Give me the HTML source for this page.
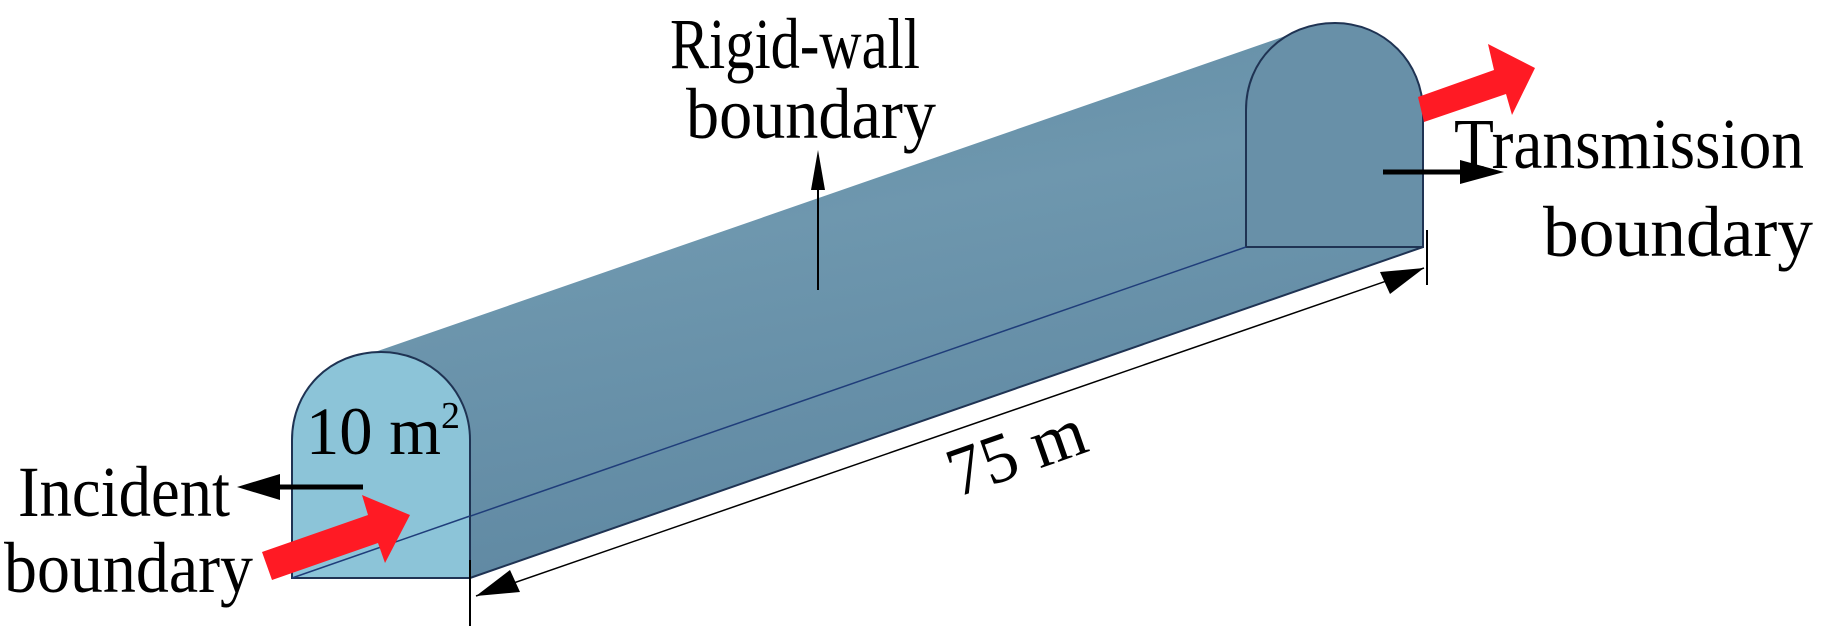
<!DOCTYPE html>
<html><head><meta charset="utf-8"><style>
html,body{margin:0;padding:0;background:#fff}
svg{display:block}
text{font-family:"Liberation Serif",serif;fill:#000}
</style></head><body>
<svg width="1843" height="636" viewBox="0 0 1843 636" xmlns="http://www.w3.org/2000/svg">
<defs>
<linearGradient id="bg" x1="0" y1="0" x2="0.35" y2="1">
<stop offset="0" stop-color="#5f8aa3"/>
<stop offset="0.45" stop-color="#6e97ae"/>
<stop offset="1" stop-color="#5f88a2"/>
</linearGradient>
</defs>
<path d="M346,362 L1300,31 L1330,23 C1385,23 1423,62 1423,112 L1423,247 L470,578 L470,442 C470,392 430,352 381,352 Z" fill="url(#bg)"/>
<path d="M1246,247 L1246,110 C1246,60 1284,23 1335,23 C1384,23 1423,62 1423,112 L1423,247 Z" fill="#6890a8" stroke="#1f3353" stroke-width="2"/>
<line x1="470" y1="578" x2="1423" y2="247" stroke="#1f3353" stroke-width="2"/>
<line x1="292" y1="578" x2="1246" y2="247" stroke="#1f3d7a" stroke-width="1.5"/>
<path d="M292,578 L292,440 C292,390 330,352 381,352 C430,352 470,390 470,440 L470,578 Z" fill="#8cc4d8" stroke="#1f3353" stroke-width="2"/>
<line x1="292" y1="578" x2="470" y2="516" stroke="#1f3d7a" stroke-width="1.5"/>
<polygon points="262,552 368,515 362,495 410,515 385,563 378,543 272,580" fill="#ff1a24"/>
<polygon points="1418,97 1494,70 1488,44 1535,68 1512,115 1506,94 1424,122" fill="#ff1a24"/>
<line x1="818" y1="290" x2="818" y2="170" stroke="#000" stroke-width="2"/>
<polygon points="818,150 811,190 825,190" fill="#000"/>
<line x1="1383" y1="172" x2="1470" y2="172" stroke="#000" stroke-width="5"/>
<polygon points="1504,172 1460,160 1460,184" fill="#000"/>
<line x1="363" y1="487" x2="270" y2="487" stroke="#000" stroke-width="5"/>
<polygon points="237,487 280,474 280,500" fill="#000"/>
<line x1="470" y1="560" x2="470" y2="626" stroke="#000" stroke-width="2"/>
<line x1="1427" y1="230" x2="1427" y2="285" stroke="#000" stroke-width="2"/>
<line x1="476" y1="596" x2="1424" y2="268" stroke="#000" stroke-width="1.5"/>
<polygon points="476,596 510,570 520,592" fill="#000"/>
<polygon points="1424,268 1390,294 1380,272" fill="#000"/>
<text x="670" y="68" font-size="72" textLength="250" lengthAdjust="spacingAndGlyphs">Rigid-wall</text>
<text x="686" y="138" font-size="72" textLength="250" lengthAdjust="spacingAndGlyphs">boundary</text>
<text x="1454" y="168" font-size="72" textLength="350" lengthAdjust="spacingAndGlyphs">Transmission</text>
<text x="1543" y="256" font-size="72" textLength="270" lengthAdjust="spacingAndGlyphs">boundary</text>
<text x="18" y="516" font-size="72" textLength="212" lengthAdjust="spacingAndGlyphs">Incident</text>
<text x="4" y="592" font-size="72" textLength="249" lengthAdjust="spacingAndGlyphs">boundary</text>
<text x="306" y="454" font-size="68" textLength="135" lengthAdjust="spacingAndGlyphs">10 m</text>
<text x="441" y="428" font-size="38">2</text>
<text x="0" y="0" font-size="70" text-anchor="middle" transform="translate(1024,474) rotate(-19.3)">75 m</text>
</svg>
</body></html>
